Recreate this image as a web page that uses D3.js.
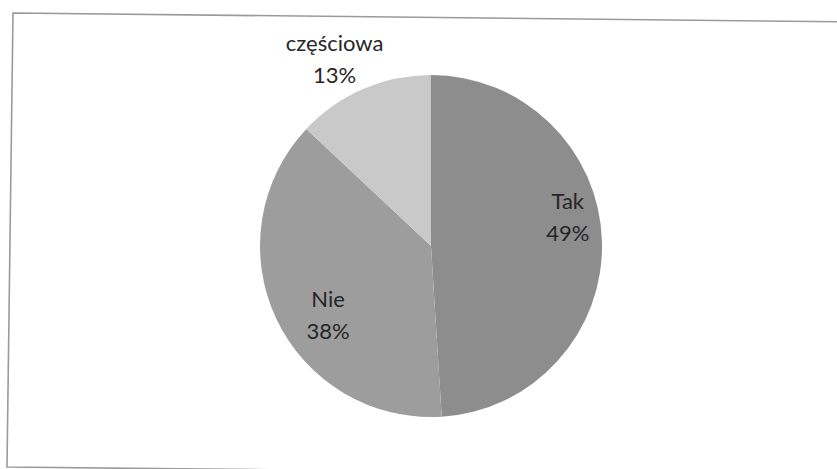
<!DOCTYPE html>
<html>
<head>
<meta charset="utf-8">
<script src="https://cdn.jsdelivr.net/npm/d3@7"></script>
<style>
  html, body { margin: 0; padding: 0; background: #ffffff; }
  svg { display: block; }
  text { font-family: Lato, "Open Sans", sans-serif; }
</style>
</head>
<body>
<svg id="chart" width="837" height="469"></svg>
<script>
// Answer categories and their shares (percent)
const categories = ["Tak", "Nie", "częściowa"];
const shares = [49, 38, 13];
const sliceColors = ["#8d8d8d", "#9d9d9d", "#c9c9c9"];

const width = 837, height = 469;
const svg = d3.select("#chart");

// Chart frame (slightly tilted, as on the printed page)
svg.append("path")
  .attr("d", "M13,13 L860,22 L850,476 L7,467 Z")
  .attr("fill", "none")
  .attr("stroke", "#9a9a9a")
  .attr("stroke-width", 1.6);

const cx = 431, cy = 246, r = 171;
const g = svg.append("g").attr("transform", `translate(${cx},${cy})`);

const data = categories.map((c, i) => ({ name: c, value: shares[i], color: sliceColors[i] }));
const pie = d3.pie().value(d => d.value).sort(null);
const arcs = pie(data);
const arc = d3.arc().innerRadius(0).outerRadius(r);

g.selectAll("path.slice")
  .data(arcs)
  .join("path")
  .attr("class", "slice")
  .attr("d", arc)
  .attr("fill", d => d.data.color);

// Label placement: inside for large slices, outside above for the small one
function labelPos(d) {
  const mid = (d.startAngle + d.endAngle) / 2;
  const outside = d.data.value < 20;
  const rr = outside ? r + 34 : r * (mid < Math.PI ? 0.8 : 0.73);
  let x = Math.sin(mid) * rr, y = -Math.cos(mid) * rr;
  if (outside) x -= 15;
  else if (mid < Math.PI) y -= 26;
  else { x += 10; y += 15; }
  return [x, y];
}

const labels = g.selectAll("text.lbl")
  .data(arcs)
  .join("text")
  .attr("class", "lbl")
  .attr("text-anchor", "middle")
  .attr("dominant-baseline", "central")
  .attr("font-size", 22)
  .attr("fill", "#262626")
  .attr("transform", d => `translate(${labelPos(d)})`);

labels.append("tspan").attr("x", 0).attr("y", -16).text(d => d.data.name);
labels.append("tspan").attr("x", 0).attr("y", 16)
  .text(d => d3.format(".0f")(d.data.value) + "%");
</script>
</body>
</html>
